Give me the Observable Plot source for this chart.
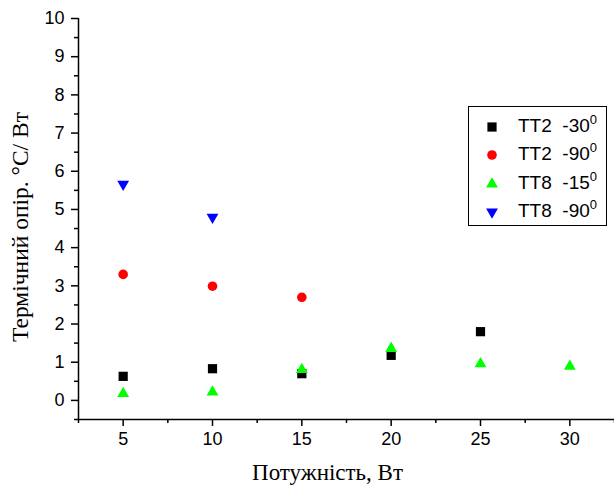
<!DOCTYPE html>
<html>
<head>
<meta charset="utf-8">
<script src="https://cdn.jsdelivr.net/npm/d3@7"></script>
<script src="https://cdn.jsdelivr.net/npm/@observablehq/plot@0.6"></script>
<style>
  html, body { margin: 0; padding: 0; background: #fff; }
  #wrap { position: relative; width: 614px; height: 491px; }
  #legend {
    position: absolute; left: 468px; top: 106px; width: 137px; height: 118px;
    border: 1px solid #000; background: #fff; box-sizing: content-box;
    font-family: "Liberation Sans", Arial, sans-serif; font-size: 19px; color: #000;
  }
  .row { position: absolute; left: 0; height: 28px; white-space: pre; }
  .row svg { position: absolute; left: 12px; top: 4px; }
  .row span.t { position: absolute; left: 49px; top: 3px; line-height: 22px; }
  sup { font-size: 13px; vertical-align: 0; position: relative; top: -8px; }
</style>
</head>
<body>
<div id="wrap"></div>
<script>
// ---- data ----
const xTicks = [5, 10, 15, 20, 25, 30];
const xMinorTicks = [2.5, 7.5, 12.5, 17.5, 22.5, 27.5, 32.5];
const yTicks = [0, 1, 2, 3, 4, 5, 6, 7, 8, 9, 10];
const yMinorTicks = [-0.5, 0.5, 1.5, 2.5, 3.5, 4.5, 5.5, 6.5, 7.5, 8.5, 9.5];
const xDomain = [2.5, 32.5];
const yDomain = [-0.5, 10];

const tt2_30_x = [5, 10, 15, 20, 25];
const tt2_30_y = [0.63, 0.83, 0.70, 1.18, 1.80];
const tt2_90_x = [5, 10, 15];
const tt2_90_y = [3.30, 2.99, 2.70];
const tt8_15_x = [5, 10, 15, 20, 25, 30];
const tt8_15_y = [0.18, 0.22, 0.81, 1.36, 0.96, 0.89];
const tt8_90_x = [5, 10];
const tt8_90_y = [5.66, 4.80];

const seriesNames = ["TT2  -30", "TT2  -90", "TT8  -15", "TT8  -90"];
const seriesSup = ["0", "0", "0", "0"];
const xLabel = "Потужність, Вт";
const yLabel = "Термічний опір. °C/ Вт";

const series = [
  {name: seriesNames[0], xs: tt2_30_x, ys: tt2_30_y, symbol: "square", color: "#000000", r: 5.2, rotate: 0},
  {name: seriesNames[1], xs: tt2_90_x, ys: tt2_90_y, symbol: "circle", color: "#ff0000", r: 4.8, rotate: 0},
  {name: seriesNames[2], xs: tt8_15_x, ys: tt8_15_y, symbol: "triangle", color: "#00ff00", r: 4.4, rotate: 0},
  {name: seriesNames[3], xs: tt8_90_x, ys: tt8_90_y, symbol: "triangle", color: "#0000ff", r: 4.4, rotate: 180}
];

const tickFont = "Liberation Sans, Arial, sans-serif";
const titleFont = "Liberation Serif, Times New Roman, serif";

const dotMarks = series.map(s => Plot.dot(s.xs.map((x, i) => ({x, y: s.ys[i]})), {
  x: "x", y: "y", symbol: () => s.symbol, fill: s.color, stroke: "none", r: s.r, rotate: s.rotate
}));

const chart = Plot.plot({
  width: 614,
  height: 491,
  marginLeft: 78,
  marginRight: 0,
  marginTop: 18,
  marginBottom: 72,
  style: {fontFamily: tickFont, fontSize: "18px", background: "#fff", color: "#000", overflow: "visible"},
  x: {domain: xDomain, axis: null},
  y: {domain: yDomain, axis: null},
  symbol: {type: "identity"},
  marks: [
    Plot.ruleX([xDomain[0]], {stroke: "#000", strokeWidth: 1.5}),
    Plot.ruleY([yDomain[0]], {stroke: "#000", strokeWidth: 1.5}),
    Plot.axisX(xTicks, {anchor: "bottom", tickSize: 7, tickPadding: 6, strokeWidth: 1.5, fontSize: 18, fontFamily: tickFont, label: null}),
    Plot.axisX(xMinorTicks, {anchor: "bottom", tickSize: 4, strokeWidth: 1.5, text: null, label: null}),
    Plot.axisY(yTicks, {anchor: "left", tickSize: 7, tickPadding: 7, strokeWidth: 1.5, fontSize: 18, fontFamily: tickFont, label: null}),
    Plot.axisY(yMinorTicks, {anchor: "left", tickSize: 4, strokeWidth: 1.5, text: null, label: null}),
    ...dotMarks,
    Plot.text([xLabel], {frameAnchor: "bottom", textAnchor: "middle", lineAnchor: "middle", dx: -19, dy: 53, fontFamily: titleFont, fontSize: 23, fill: "#000"}),
    Plot.text([yLabel], {frameAnchor: "left", textAnchor: "middle", lineAnchor: "middle", rotate: -90, dx: -58, dy: 8, fontFamily: titleFont, fontSize: 23.5, fill: "#000"})
  ]
});

const wrap = document.getElementById("wrap");
wrap.appendChild(chart);

// ---- legend ----
const legend = document.createElement("div");
legend.id = "legend";
series.forEach((s, i) => {
  const row = document.createElement("div");
  row.className = "row";
  row.style.top = (5 + i * 28.3) + "px";
  row.style.width = "137px";
  const svg = d3.create("svg").attr("width", 22).attr("height", 22);
  const sym = {square: d3.symbolSquare, circle: d3.symbolCircle, triangle: d3.symbolTriangle}[s.symbol];
  svg.append("path")
    .attr("d", d3.symbol(sym, Math.PI * s.r * s.r)())
    .attr("transform", `translate(11,11) rotate(${s.rotate})`)
    .attr("fill", s.color);
  row.appendChild(svg.node());
  const t = document.createElement("span");
  t.className = "t";
  t.innerHTML = s.name + "<sup>" + seriesSup[i] + "</sup>";
  row.appendChild(t);
  legend.appendChild(row);
});
wrap.appendChild(legend);
</script>
</body>
</html>
